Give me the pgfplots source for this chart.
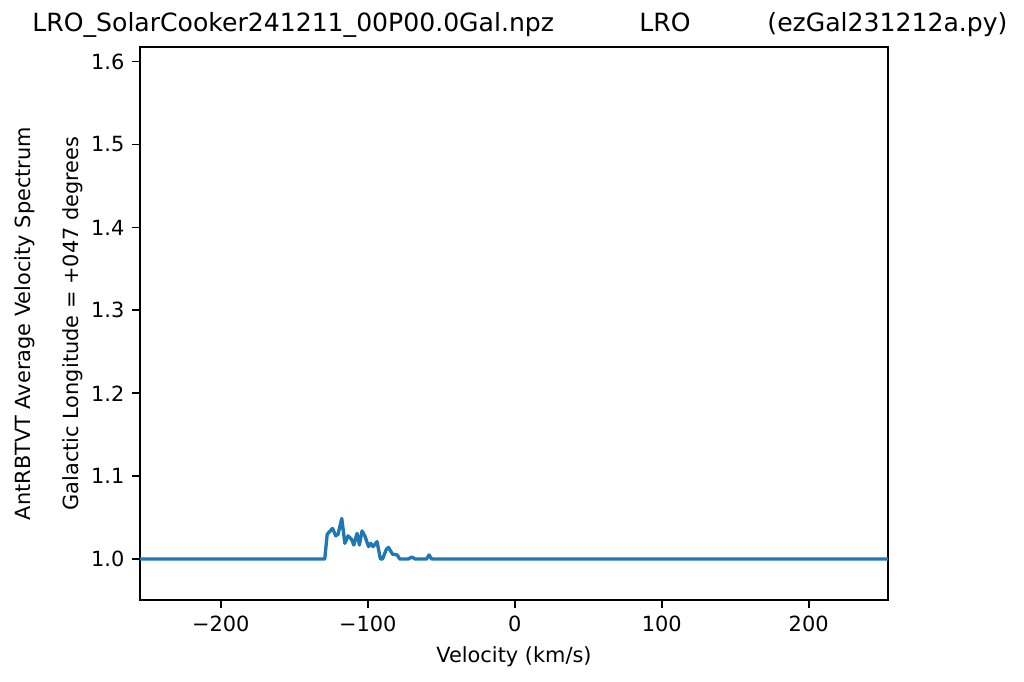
\documentclass[border=0pt]{standalone}
\usepackage{fontspec}
\setmainfont{DejaVu Sans}
\usepackage{pgfplots}
\pgfplotsset{compat=1.18}
\definecolor{mplblue}{HTML}{1F77B4}
\newcommand{\lblfont}{\fontsize{9.4}{11}\selectfont}
\newcommand{\ttlfont}{\fontsize{11.3}{13}\selectfont}
\begin{document}
\begin{tikzpicture}[font=\lblfont]
\begin{axis}[
    width=336.6pt, height=248.9pt,
    scale only axis,
    xmin=-255, xmax=254,
    ymin=0.9505, ymax=1.6176,
    xtick={-200,-100,0,100,200},
    xticklabels={−200,−100,0,100,200},
    ytick={1.0,1.1,1.2,1.3,1.4,1.5,1.6},
    yticklabels={1.0,1.1,1.2,1.3,1.4,1.5,1.6},
    ticklabel style={font=\lblfont},
    label style={font=\lblfont},
    tick align=outside,
    tick pos=left,
    major tick length=3.5pt,
    tick style={black, line width=0.8pt},
    axis line style={line width=0.8pt},
    xlabel={Velocity (km/s)},
    clip=false,
]
\addplot[mplblue, line width=1.5pt, line join=round] coordinates {
(-255,1.0) (-129.3,1.0) (-127.6,1.030) (-124,1.037) (-121.8,1.028)
(-120.2,1.030) (-117.7,1.049) (-115.6,1.019) (-113.4,1.028) (-111.1,1.024)
(-109.5,1.017) (-107.3,1.031) (-105.7,1.017) (-103.9,1.034) (-101.8,1.027)
(-99.5,1.015) (-98,1.019) (-96.4,1.015) (-93.7,1.021) (-91.4,1.0)
(-90,1.0) (-87.3,1.012) (-85.9,1.014) (-83.2,1.006) (-80,1.005)
(-78.2,1.0) (-72.6,1.0) (-70,1.0025) (-67.8,1.0) (-60,1.0)
(-58.3,1.005) (-56.5,1.0) (254,1.0)
};
\node[anchor=base west, inner sep=0pt, font=\ttlfont] at (rel axis cs:-0.1444,1.0277) {LRO\_SolarCooker241211\_00P00.0Gal.npz};
\node[anchor=base, inner sep=0pt, font=\ttlfont] at (rel axis cs:0.702,1.0277) {LRO};
\node[anchor=base east, inner sep=0pt, font=\ttlfont] at (rel axis cs:1.1604,1.0277) {(ezGal231212a.py)};
\end{axis}
\node[rotate=90] at ([xshift=-51.75pt]current axis.west) {AntRBTVT Average Velocity Spectrum};
\node[rotate=90] at ([xshift=-30.15pt]current axis.west) {Galactic Longitude = +047 degrees};
\pgfresetboundingbox
\path[use as bounding box] ([shift={(-63pt,-36.45pt)}]current axis.south west) rectangle ([shift={(61.2pt,21.15pt)}]current axis.north east);
\end{tikzpicture}
\end{document}
